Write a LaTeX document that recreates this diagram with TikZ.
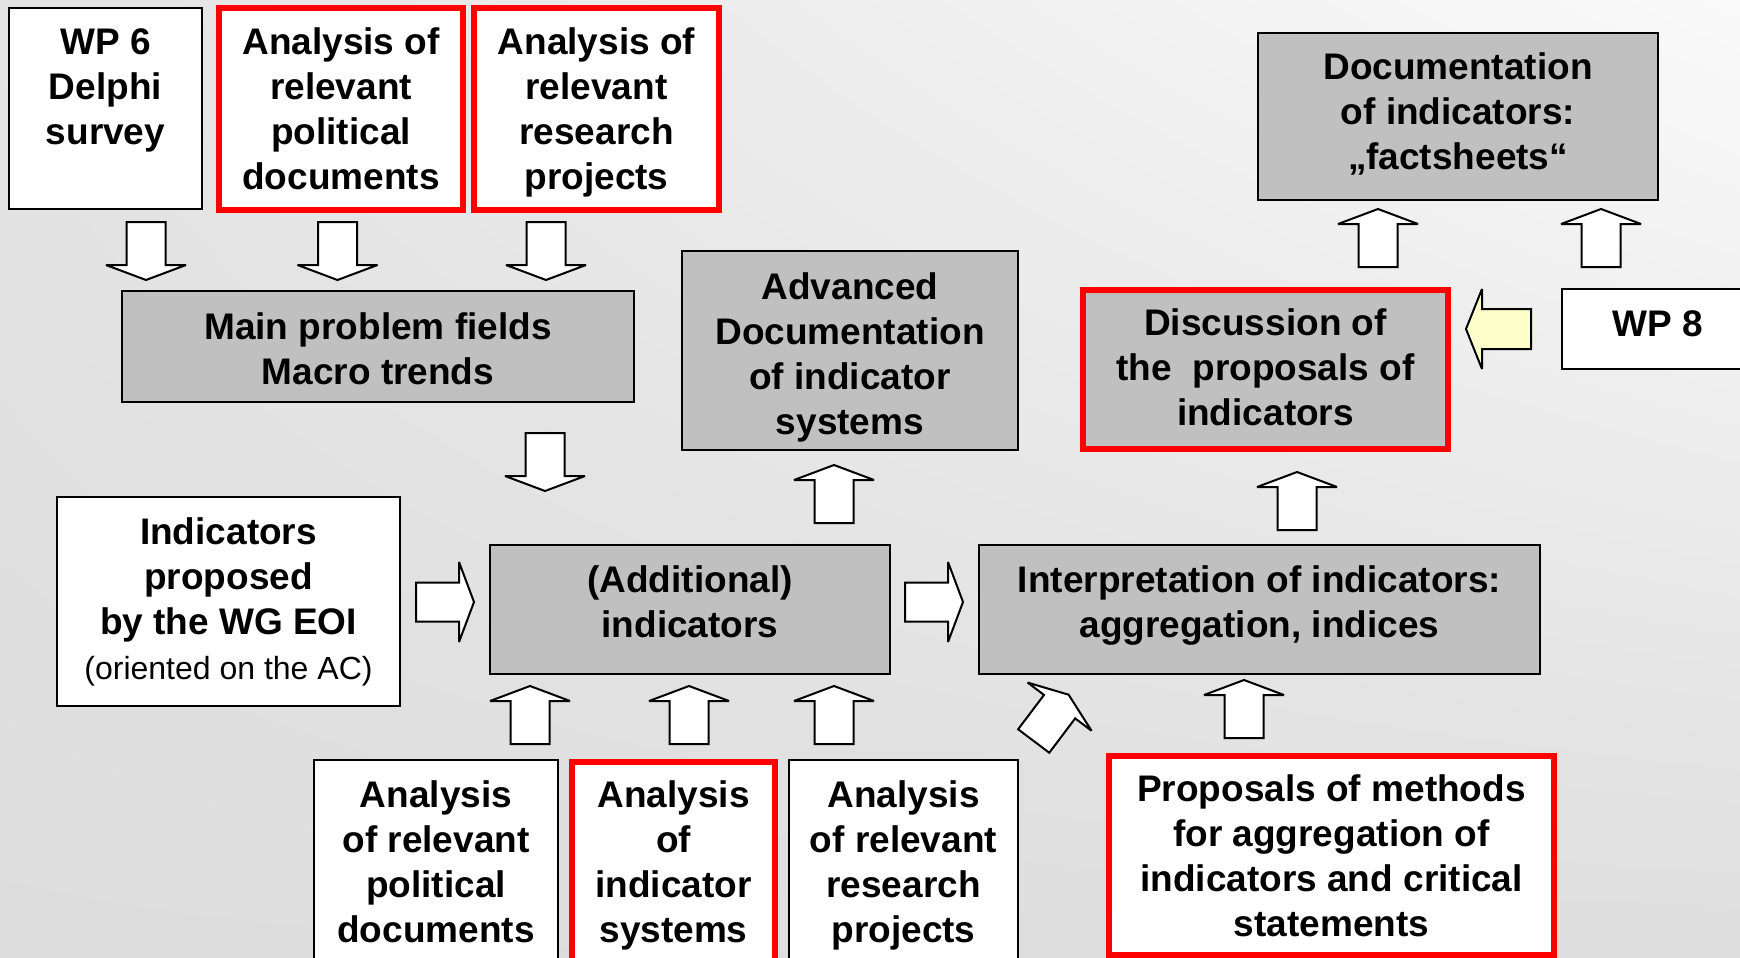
\documentclass[tikz,border=0pt]{standalone}
\usepackage{fontspec}
\setmainfont{Liberation Sans}
\usetikzlibrary{shadings}
\definecolor{bgUL}{HTML}{E3E3E3}
\definecolor{bgUR}{HTML}{FAFAFA}
\definecolor{bgLL}{HTML}{DDDDDD}
\definecolor{bgLR}{HTML}{DEDEDE}
\definecolor{boxgray}{HTML}{C0C0C0}
\definecolor{boxred}{HTML}{FF0000}
\definecolor{arrowyellow}{HTML}{FFFFCC}
\newcommand{\bigtxt}{\fontsize{37}{45}\selectfont\bfseries}
\newcommand{\smalltxt}{\fontsize{32}{45}\selectfont\mdseries}
\tikzset{
  boxbase/.style={rectangle, inner sep=0pt, line width=2.2pt, draw=black, fill=white},
  whitebox/.style={boxbase},
  graybox/.style={boxbase, fill=boxgray},
  redbox/.style={boxbase, draw=boxred, line width=5.5pt},
  redgraybox/.style={redbox, fill=boxgray},
  txt/.style={align=center, inner sep=0pt, font=\bigtxt, text=black, yshift=-3pt,
    execute at begin node=\strut, execute at end node=\strut},
  arrowline/.style={draw=black, fill=white, line width=2pt, line join=miter, miter limit=3},
  pics/barrow/.style={code={\draw[arrowline] (0,-19.5) -- (43,-19.5) -- (43,-40) -- (58,0) -- (43,40) -- (43,19.5) -- (0,19.5) -- cycle;}},
  pics/yarrow/.style={code={\draw[arrowline, fill=arrowyellow] (0,-20) -- (49,-20) -- (49,-40) -- (65,0) -- (49,40) -- (49,20) -- (0,20) -- cycle;}},
}
\begin{document}
\begin{tikzpicture}[x=1pt, y=-1pt]
\useasboundingbox (0,0) rectangle (1740,958);
\clip (0,0) rectangle (1740,958);
\shade[upper left=bgUL, upper right=bgUR, lower left=bgLL, lower right=bgLR] (0,0) rectangle (1740,958);

% boxes
\node[whitebox, minimum width=193pt, minimum height=201pt] (wp6) at (105.5,108.5) {};
\node[redbox, minimum width=244pt, minimum height=202pt] (pol) at (341,109) {};
\node[redbox, minimum width=245pt, minimum height=202pt] (res) at (596.5,109) {};
\node[graybox, minimum width=512pt, minimum height=111pt] (main) at (378,346.5) {};
\node[graybox, minimum width=336pt, minimum height=199pt] (adv) at (850,350.5) {};
\node[graybox, minimum width=400pt, minimum height=167pt] (doc) at (1458,116.5) {};
\node[redgraybox, minimum width=365pt, minimum height=159pt] (disc) at (1265.5,369.5) {};
\node[whitebox, minimum width=192pt, minimum height=80pt] (wp8) at (1658,329) {};
\node[whitebox, minimum width=343pt, minimum height=209pt] (ind) at (228.5,601.5) {};
\node[graybox, minimum width=400pt, minimum height=129pt] (add) at (690,609.5) {};
\node[graybox, minimum width=561pt, minimum height=129pt] (interp) at (1259.5,609.5) {};
\node[whitebox, minimum width=244pt, minimum height=202pt] (pol2) at (436,861) {};
\node[redbox, minimum width=203pt, minimum height=202pt] (ind2) at (673.5,863) {};
\node[whitebox, minimum width=229pt, minimum height=202pt] (res2) at (903.5,861) {};
\node[redbox, minimum width=445pt, minimum height=199pt] (prop) at (1331.5,855.5) {};

% texts
\node[txt] (wp6T) at (105.5,90.75) {WP 6\\Delphi\\survey};
\node[txt] (polT) at (341,112) {Analysis of\\relevant\\political\\documents};
\node[txt] (resT) at (596.5,112) {Analysis of\\relevant\\research\\projects};
\node[txt] (mainT) at (378,352) {Main problem fields\\Macro trends};
\node[txt] (advT) at (850,357) {Advanced\\Documentation\\of indicator\\systems};
\node[txt] (docT) at (1458,115) {Documentation\\of indicators:\\„factsheets“};
\node[txt] (discT) at (1265.5,371) {Discussion of\\the\ \ proposals of\\indicators};
\node[txt] (wp8T) at (1658,324) {WP 8};
\node[txt] (indT) at (228.5,602.5) {Indicators\\proposed\\by the WG EOI\\{\smalltxt (oriented on the AC)}};
\node[txt] (addT) at (690,605.5) {(Additional)\\indicators};
\node[txt] (interpT) at (1259.5,605.5) {Interpretation of indicators:\\aggregation, indices};
\node[txt] (pol2T) at (436,865) {Analysis\\of relevant\\political\\documents};
\node[txt] (ind2T) at (673.5,865) {Analysis\\of\\indicator\\systems};
\node[txt] (res2T) at (903.5,865) {Analysis\\of relevant\\research\\projects};
\node[txt] (propT) at (1331.5,859.5) {Proposals of methods\\for aggregation of\\indicators and critical\\statements};

% block arrows
\pic[rotate=-90] at (146,222) {barrow};
\pic[rotate=-90] at (337.5,222) {barrow};
\pic[rotate=-90] at (546,222) {barrow};
\pic[rotate=-90] at (545,433) {barrow};
\pic[rotate=90] at (834,523) {barrow};
\pic[rotate=90] at (530,744) {barrow};
\pic[rotate=90] at (689,744) {barrow};
\pic[rotate=90] at (834,744) {barrow};
\pic at (416,602) {barrow};
\pic at (905,602) {barrow};
\pic[rotate=90] at (1244,738) {barrow};
\pic[rotate=90] at (1297,530) {barrow};
\pic[rotate=90] at (1378,267) {barrow};
\pic[rotate=90] at (1601,267) {barrow};
\pic[rotate=53] at (1033.7,741) {barrow};
\pic[rotate=180] at (1531,329) {yarrow};
\end{tikzpicture}
\end{document}
